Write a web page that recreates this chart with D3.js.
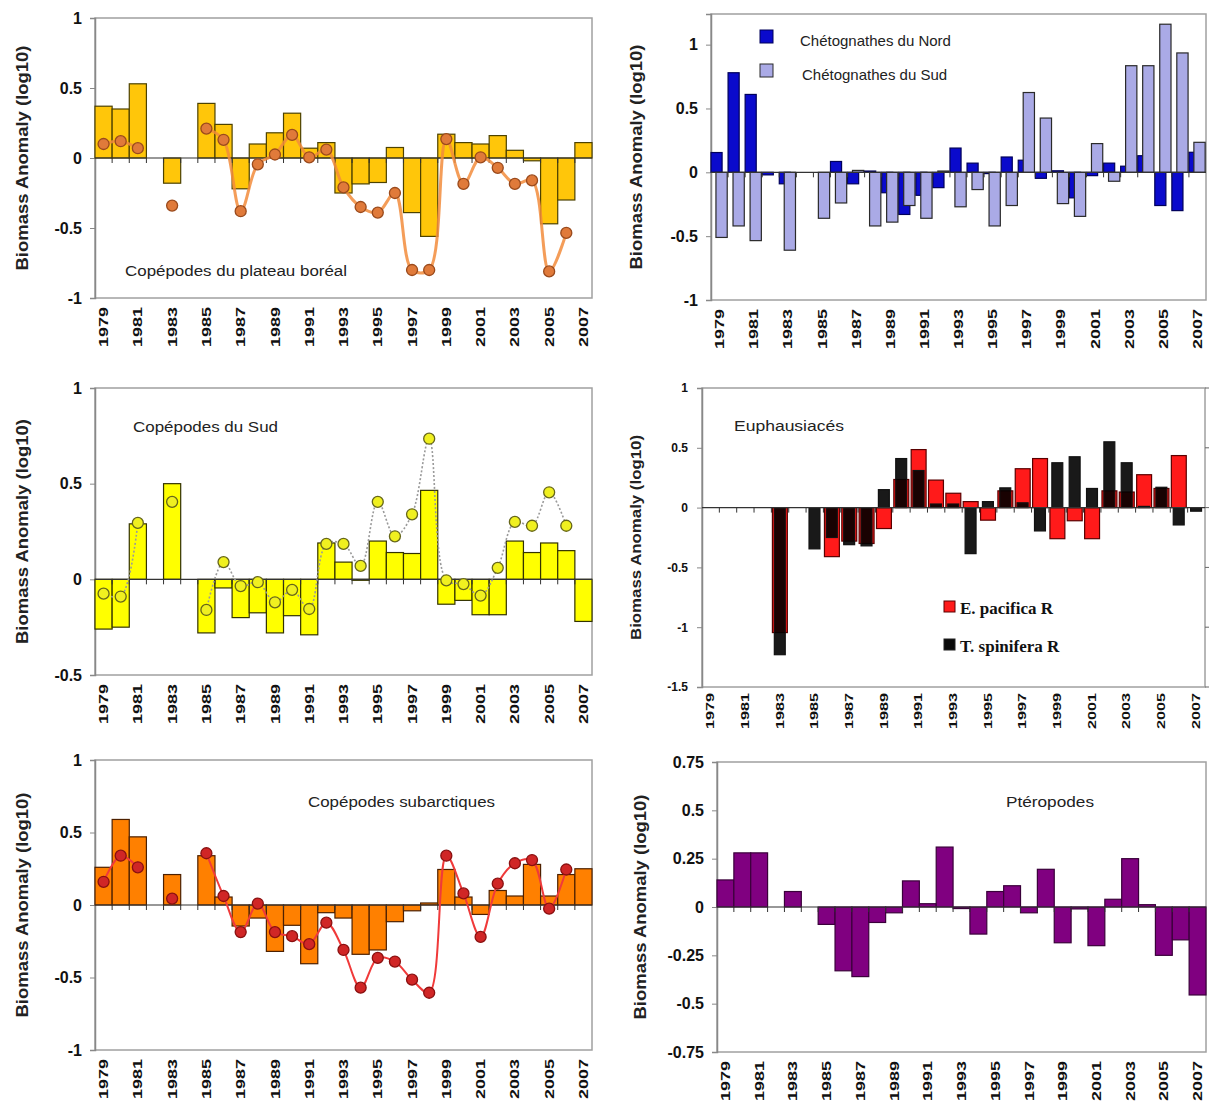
<!DOCTYPE html>
<html>
<head>
<meta charset="utf-8">
<script src="https://cdn.jsdelivr.net/npm/d3@7"></script>
<style>
	body { margin: 0; background: #fff; }
	svg { display: block; font-family: "Liberation Sans", Arial, sans-serif; }
</style>
</head>
<body>
<svg id="chart" width="1210" height="1105"></svg>
<script>
// categories
const years = [1979, 1980, 1981, 1982, 1983, 1984, 1985, 1986, 1987, 1988, 1989, 1990, 1991, 1992, 1993,
	1994, 1995, 1996, 1997, 1998, 1999, 2000, 2001, 2002, 2003, 2004, 2005, 2006, 2007]
const yearTicks = [1979, 1981, 1983, 1985, 1987, 1989, 1991, 1993, 1995, 1997, 1999, 2001, 2003, 2005, 2007]

// Copépodes du plateau boréal
const borealBars = [0.37, 0.35, 0.53, null, -0.18, null, 0.39, 0.24, -0.22, 0.10, 0.18, 0.32, 0.07, 0.11, -0.25,
	-0.185, -0.175, 0.075, -0.39, -0.56, 0.17, 0.11, 0.10, 0.16, 0.055, -0.02, -0.47, -0.30, 0.11]
const borealPoints = [0.10, 0.12, 0.07, null, -0.34, null, 0.21, 0.13, -0.38, -0.045, 0.025, 0.165, 0.005, 0.06, -0.21,
	-0.35, -0.39, -0.25, -0.80, -0.80, 0.135, -0.185, 0.005, -0.07, -0.185, -0.16, -0.81, -0.535, null]

// Chétognathes
const nordBars = [0.155, 0.78, 0.61, -0.02, -0.09, null, null, 0.085, -0.09, 0.01, -0.16, -0.33, -0.18, -0.12, 0.19,
	0.072, -0.01, 0.12, 0.095, -0.047, 0.012, -0.2, -0.026, 0.072, 0.048, 0.13, -0.26, -0.30, 0.157]
const sudChetoBars = [-0.51, -0.42, -0.535, null, -0.61, null, -0.36, -0.24, 0.015, -0.42, -0.39, -0.26, -0.36, 0.01, -0.27,
	-0.135, -0.42, -0.26, 0.625, 0.425, -0.245, -0.345, 0.225, -0.07, 0.835, 0.835, 1.16, 0.935, 0.235]

// Copépodes du Sud
const sudBars = [-0.26, -0.25, 0.29, null, 0.50, null, -0.28, -0.045, -0.20, -0.175, -0.28, -0.19, -0.29, 0.19, 0.09,
	-0.005, 0.20, 0.14, 0.135, 0.465, -0.13, -0.11, -0.185, -0.185, 0.20, 0.14, 0.19, 0.15, -0.22]
const sudPoints = [-0.075, -0.09, 0.295, null, 0.405, null, -0.16, 0.09, -0.035, -0.015, -0.12, -0.055, -0.155, 0.185, 0.185,
	0.07, 0.405, 0.225, 0.34, 0.735, -0.005, -0.025, -0.085, 0.06, 0.30, 0.28, 0.455, 0.28, null]

// Euphausiacés
const pacificaBars = [null, null, null, null, -1.045, null, null, -0.41, -0.28, -0.30, -0.175, 0.235, 0.485, 0.23, 0.12,
	0.05, -0.105, 0.14, 0.325, 0.41, -0.26, -0.11, -0.26, 0.14, 0.13, 0.275, 0.16, 0.435, null]
const spiniferaBars = [null, null, null, null, -1.23, null, -0.345, -0.25, -0.31, -0.32, 0.15, 0.41, 0.31, 0.03, 0.03,
	-0.385, 0.05, 0.165, 0.04, -0.195, 0.375, 0.425, 0.16, 0.55, 0.375, 0.01, 0.17, -0.145, -0.03]

// Copépodes subarctiques
const subBars = [0.26, 0.59, 0.47, null, 0.21, null, 0.34, 0.055, -0.145, -0.09, -0.32, -0.14, -0.405, -0.053, -0.09,
	-0.34, -0.31, -0.115, -0.04, 0.014, 0.245, 0.055, -0.065, 0.10, 0.062, 0.28, 0.062, 0.21, 0.25]
const subPoints = [0.16, 0.34, 0.26, null, 0.044, null, 0.357, 0.062, -0.187, 0.01, -0.187, -0.215, -0.27, -0.122, -0.31,
	-0.57, -0.365, -0.39, -0.515, -0.605, 0.34, 0.08, -0.22, 0.147, 0.288, 0.31, -0.025, 0.245, null]

// Ptéropodes
const pteroBars = [0.14, 0.28, 0.28, null, 0.08, null, -0.09, -0.33, -0.36, -0.08, -0.03, 0.135, 0.017, 0.31, -0.008,
	-0.14, 0.08, 0.11, -0.03, 0.195, -0.185, -0.01, -0.20, 0.04, 0.25, 0.012, -0.25, -0.17, -0.455]

const svg = d3.select('#chart')
const yLabel = 'Biomass Anomaly (log10)'

function drawPanel(cfg) {
	const x = d3.scaleBand().domain(years).range([cfg.left, cfg.right]).padding(0)
	const y = d3.scaleLinear().domain(cfg.domain).range([cfg.bottom, cfg.top])
	const bw = x.bandwidth()
	const g = svg.append('g')

	g.append('rect')
		.attr('x', cfg.left).attr('y', cfg.top)
		.attr('width', cfg.right - cfg.left).attr('height', cfg.bottom - cfg.top)
		.attr('fill', 'none').attr('stroke', '#a0a0a0').attr('stroke-width', 1.5)

	const ax = g.append('g')
		.attr('transform', `translate(${cfg.left},0)`)
		.call(d3.axisLeft(y).tickValues(cfg.ticks).tickSize(5).tickPadding(cfg.pad).tickFormat((d) => String(d)))
		.attr('font-family', null).attr('font-size', null)
	ax.select('.domain').attr('stroke', '#888').attr('stroke-width', 1.5)
	ax.selectAll('line').attr('stroke', '#888')
	ax.selectAll('text').attr('font-size', cfg.tickFont).attr('font-weight', 'bold').attr('fill', '#111')

	if (cfg.rightTicks) {
		g.selectAll('.rtick').data(cfg.ticks).enter().append('line')
			.attr('x1', cfg.right).attr('x2', cfg.right + 4)
			.attr('y1', (d) => y(d)).attr('y2', (d) => y(d))
			.attr('stroke', '#666')
	}

	g.append('g').selectAll('text').data(yearTicks).enter().append('text')
		.text((d) => d)
		.attr('transform', (d) => `translate(${x(d) + bw / 2},${cfg.bottom + cfg.yearGap}) rotate(-90)`)
		.attr('text-anchor', 'end')
		.attr('dy', '0.35em')
		.attr('font-size', cfg.yearFont)
		.attr('font-weight', 'bold')
		.attr('textLength', cfg.yearLen)
		.attr('lengthAdjust', 'spacingAndGlyphs')
		.attr('fill', '#111')

	g.append('text')
		.text(yLabel)
		.attr('transform', `translate(${cfg.ylabX},${(cfg.top + cfg.bottom) / 2}) rotate(-90)`)
		.attr('text-anchor', 'middle')
		.attr('dy', '0.35em')
		.attr('font-size', cfg.ylabFont)
		.attr('font-weight', 'bold')
		.attr('textLength', cfg.ylabLen)
		.attr('lengthAdjust', 'spacingAndGlyphs')
		.attr('fill', '#222')

	cfg.series.forEach((s) => {
		const rows = years.map((yr, i) => ({ yr, v: s.values[i] })).filter((d) => d.v !== null)
		g.append('g').selectAll('rect').data(rows).enter().append('rect')
			.attr('x', (d) => x(d.yr) + bw * s.from)
			.attr('width', bw * (s.to - s.from))
			.attr('y', (d) => Math.min(y(d.v), y(0)))
			.attr('height', (d) => Math.abs(y(d.v) - y(0)))
			.attr('fill', s.fill)
			.attr('fill-opacity', s.opacity || 1)
			.attr('stroke', s.stroke)
			.attr('stroke-width', 1.2)
	})

	// zero line with category ticks
	g.append('line')
		.attr('x1', cfg.left).attr('x2', cfg.right)
		.attr('y1', y(0)).attr('y2', y(0))
		.attr('stroke', '#333').attr('stroke-width', 1.2)
	g.append('g').selectAll('line').data(years.slice(1)).enter().append('line')
		.attr('x1', (d) => x(d)).attr('x2', (d) => x(d))
		.attr('y1', y(0)).attr('y2', y(0) + 5)
		.attr('stroke', '#333')

	if (cfg.line) {
		const l = cfg.line
		const pts = years.map((yr, i) => ({ yr, v: l.values[i] }))
		const path = d3.line()
			.defined((d) => d.v !== null)
			.x((d) => x(d.yr) + bw / 2)
			.y((d) => y(d.v))
			.curve(d3.curveCatmullRom.alpha(0.5))
		g.append('path')
			.attr('d', path(pts))
			.attr('fill', 'none')
			.attr('stroke', l.stroke)
			.attr('stroke-width', l.width)
			.attr('stroke-dasharray', l.dash || null)
			.attr('stroke-opacity', l.opacity || 1)
		g.append('g').selectAll('circle').data(pts.filter((d) => d.v !== null)).enter().append('circle')
			.attr('cx', (d) => x(d.yr) + bw / 2)
			.attr('cy', (d) => y(d.v))
			.attr('r', 5.5)
			.attr('fill', l.dotFill)
			.attr('stroke', l.dotStroke)
			.attr('stroke-width', 1.3)
	}

	if (cfg.title) {
		g.append('text')
			.text(cfg.title.text)
			.attr('x', cfg.title.x).attr('y', cfg.title.y)
			.attr('font-size', 14)
			.attr('textLength', cfg.title.len)
			.attr('lengthAdjust', 'spacingAndGlyphs')
			.attr('fill', '#222')
	}

	return { x, y }
}

const bigText = { tickFont: 16, yearFont: 13, yearLen: 40, ylabFont: 16, ylabLen: 225 }

drawPanel({
	...bigText, left: 95, right: 592, top: 18, bottom: 298, domain: [-1, 1], ticks: [-1, -0.5, 0, 0.5, 1],
	pad: 8, yearGap: 9, ylabX: 22,
	series: [{ values: borealBars, fill: '#FFC60A', stroke: '#4d4200', from: 0, to: 1 }],
	line: { values: borealPoints, stroke: '#F28C3C', width: 3, opacity: 0.85, dotFill: '#E07A3A', dotStroke: '#9A4A1C' },
	title: { text: 'Copépodes du plateau boréal', x: 125, y: 276, len: 222 }
})

drawPanel({
	...bigText, left: 711, right: 1206, top: 14, bottom: 300, domain: [-1, 1.24], ticks: [-1, -0.5, 0, 0.5, 1],
	pad: 8, yearGap: 9, ylabX: 636,
	series: [
		{ values: nordBars, fill: '#0A0ACC', stroke: '#00005a', from: 0, to: 0.65 },
		{ values: sudChetoBars, fill: '#AAAAE6', stroke: '#2a2a2a', from: 0.29, to: 0.95 }
	]
})

drawPanel({
	...bigText, left: 95, right: 592, top: 388, bottom: 675, domain: [-0.5, 1], ticks: [-0.5, 0, 0.5, 1],
	pad: 8, yearGap: 9, ylabX: 22,
	series: [{ values: sudBars, fill: '#FFFF00', stroke: '#333300', from: 0, to: 1 }],
	line: { values: sudPoints, stroke: '#9a9a9a', width: 1.6, dash: '2,2', dotFill: '#F0F020', dotStroke: '#66661a' },
	title: { text: 'Copépodes du Sud', x: 133, y: 432, len: 145 }
})

drawPanel({
	tickFont: 12, yearFont: 10, yearLen: 36, ylabFont: 14, ylabLen: 205,
	left: 702, right: 1205, top: 388, bottom: 687, domain: [-1.5, 1], ticks: [-1.5, -1, -0.5, 0, 0.5, 1],
	pad: 9, yearGap: 6, ylabX: 636, rightTicks: true,
	series: [
		{ values: pacificaBars, fill: '#FF1A1A', stroke: '#5a0000', from: 0.06, to: 0.92 },
		{ values: spiniferaBars, fill: '#000000', stroke: '#111', from: 0.17, to: 0.8, opacity: 0.9 }
	],
	title: { text: 'Euphausiacés', x: 734, y: 431, len: 110 }
})

drawPanel({
	...bigText, left: 95, right: 592, top: 760, bottom: 1050, domain: [-1, 1], ticks: [-1, -0.5, 0, 0.5, 1],
	pad: 8, yearGap: 9, ylabX: 22,
	series: [{ values: subBars, fill: '#FF8000', stroke: '#4d2000', from: 0, to: 1 }],
	line: { values: subPoints, stroke: '#F03A3A', width: 2, dotFill: '#D02626', dotStroke: '#8a1010' },
	title: { text: 'Copépodes subarctiques', x: 308, y: 807, len: 187 }
})

drawPanel({
	...bigText, left: 717, right: 1206, top: 762, bottom: 1052, domain: [-0.75, 0.75],
	ticks: [-0.75, -0.5, -0.25, 0, 0.25, 0.5, 0.75],
	pad: 8, yearGap: 9, ylabX: 640,
	series: [{ values: pteroBars, fill: '#800080', stroke: '#3a003a', from: 0, to: 1 }],
	title: { text: 'Ptéropodes', x: 1006, y: 807, len: 88 }
})

// legends
const chetoLegend = [
	{ label: 'Chétognathes du Nord', fill: '#0A0ACC', stroke: '#00005a', y: 30, tx: 800, ty: 46 },
	{ label: 'Chétognathes du Sud', fill: '#AAAAE6', stroke: '#2a2a2a', y: 64, tx: 802, ty: 80 }
]
const chetoG = svg.append('g')
chetoG.selectAll('rect').data(chetoLegend).enter().append('rect')
	.attr('x', 760).attr('y', (d) => d.y).attr('width', 13).attr('height', 13)
	.attr('fill', (d) => d.fill).attr('stroke', (d) => d.stroke)
chetoG.selectAll('text').data(chetoLegend).enter().append('text')
	.text((d) => d.label)
	.attr('x', (d) => d.tx).attr('y', (d) => d.ty)
	.attr('font-size', 15).attr('fill', '#222')

const euphLegend = [
	{ label: 'E. pacifica R', fill: '#FF1A1A', stroke: '#5a0000', y: 601, ty: 614 },
	{ label: 'T. spinifera R', fill: '#0a0a0a', stroke: '#222', y: 639, ty: 652 }
]
const euphG = svg.append('g')
euphG.selectAll('rect').data(euphLegend).enter().append('rect')
	.attr('x', 944).attr('y', (d) => d.y).attr('width', 11).attr('height', 11)
	.attr('fill', (d) => d.fill).attr('stroke', (d) => d.stroke)
euphG.selectAll('text').data(euphLegend).enter().append('text')
	.text((d) => d.label)
	.attr('x', 960).attr('y', (d) => d.ty)
	.attr('font-family', '"Liberation Serif", "Times New Roman", serif')
	.attr('font-weight', 'bold')
	.attr('font-size', 17).attr('fill', '#111')
</script>
</body>
</html>
